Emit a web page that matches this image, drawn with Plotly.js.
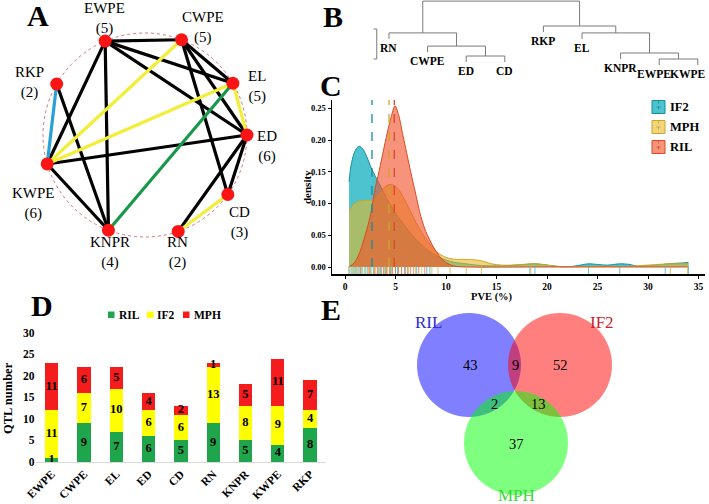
<!DOCTYPE html>
<html><head><meta charset="utf-8">
<script src="https://cdn.plot.ly/plotly-3.0.1.min.js"></script>
<style>html,body{margin:0;padding:0;background:#fff}</style>
</head><body><div id="chart" style="width:709px;height:504px"></div>
<script>
// ---------- Panel A : QTL co-location network ----------
const nodeNames  = ['EWPE','CWPE','EL','ED','CD','RN','KNPR','KWPE','RKP'];
const nodeDegree = [5,5,5,6,3,2,4,6,2];
const nodeAngle  = [113,69,30.5,0,-35.7,-71,-111,-163.5,150]; // circular layout angles (deg)
const edgeFrom = ['EWPE','EWPE','EWPE','EWPE','EWPE','CWPE','CWPE','CWPE','ED','ED','ED','KWPE','RKP','CWPE','EL','EL','CD','EL','RKP'];
const edgeTo   = ['CWPE','EL','ED','KWPE','KNPR','EL','ED','CD','KWPE','CD','RN','KNPR','KNPR','KWPE','KWPE','ED','RN','KNPR','KWPE'];
const edgeType = ['k','k','k','k','k','k','k','k','k','k','k','k','k','y','y','y','y','g','b'];

// ---------- Panel B : dendrogram ----------
const leaves = ['RN','CWPE','ED','CD','RKP','EL','KNPR','EWPE','KWPE'];
// merges: negative = leaf (1-based), positive = earlier merge
const mergeA = [-3,-8,-7,-2,-1,-6,-5,5];
const mergeB = [-4,-9,2,1,4,3,6,7];
const mergeH = [0.3,0.2,0.4,0.63,1.07,1.07,1.3,2.13];

// ---------- Panel C : PVE density ----------
const groupsC = ['IF2','MPH','RIL'];
const if2X = [0.4,0.6,0.9,1.2,1.45,1.8,2.2,2.6,3.0,3.5,4,4.5,5,5.5,6,6.5,7,7.5,8,8.5,9,10,11,12,13,14,15,16,17,18,18.7,19.5,20.5,21.5,22.5,23.3,24.1,25,26,27.2,28.2,29,30,31,32,33,34];
const if2Y = [0.134,0.16,0.179,0.188,0.19,0.185,0.172,0.156,0.143,0.128,0.112,0.098,0.085,0.074,0.063,0.053,0.044,0.036,0.029,0.023,0.018,0.011,0.007,0.005,0.003,0.002,0.002,0.002,0.003,0.004,0.005,0.004,0.002,0.0005,0.001,0.003,0.005,0.004,0.003,0.005,0.004,0.001,0.002,0.003,0.005,0.006,0.007];
const mphX = [0.4,0.7,1.0,1.5,2.0,2.5,2.9,3.3,3.7,4.1,4.5,4.9,5.3,5.7,6.1,6.5,7,7.5,8,8.5,9,9.5,10,10.5,11,12,13,13.7,14.5,15.5,16.5,17.5,18.3,19,20,21,21.7,22.5,24,26,28,29,30,31,32,33,34];
const mphY = [0.087,0.096,0.101,0.104,0.105,0.105,0.107,0.114,0.122,0.128,0.13,0.128,0.122,0.112,0.1,0.087,0.071,0.057,0.045,0.034,0.025,0.019,0.015,0.013,0.012,0.012,0.011,0.009,0.005,0.003,0.003,0.004,0.005,0.005,0.003,0.001,0.0005,0.0005,0.001,0.001,0.001,0.002,0.003,0.004,0.005,0.005,0.005];
const rilX = [0.4,1.0,1.5,2.0,2.5,3.0,3.5,4.0,4.5,4.95,5.3,5.7,6.1,6.5,7.0,7.5,8.0,8.5,9.0,9.5,10.0,10.5,11,12,20,34];
const rilY = [0.0,0.008,0.025,0.05,0.08,0.125,0.16,0.198,0.232,0.254,0.24,0.21,0.18,0.15,0.115,0.08,0.056,0.039,0.025,0.014,0.007,0.003,0.001,0,0,0];
const if2Rug = [0.4,0.6,0.8,1.0,1.1,1.3,1.5,1.7,2.0,2.2,2.5,2.8,3.3,3.6,4.0,4.5,5.2,6.0,7.1,8.1,8.4,18.3,18.8,24.1,27.2,31.7,34.0];
const mphRug = [0.4,0.7,0.9,1.2,1.6,1.9,2.3,2.6,3.0,3.4,3.9,4.2,4.6,5.0,5.6,6.3,7.0,7.6,8.6,9.2,10.4,12.0,13.5,18.4,32.2,33.9];
const rilRug = [1.5,2.4,2.9,3.2,3.5,3.8,4.1,4.4,4.7,5.0,5.3,5.6,5.9,6.2,6.5,6.8,7.3,7.9];
const groupMean = [2.67,4.36,4.88];

// ---------- Panel D : QTL numbers ----------
const traits = ['EWPE','CWPE','EL','ED','CD','RN','KNPR','KWPE','RKP'];
const rilQ = [1,9,7,6,5,9,5,4,8];
const if2Q = [11,7,10,6,6,13,8,9,4];
const mphQ = [11,6,5,4,2,1,5,11,7];

// ---------- Panel E : Venn ----------
const vennSets = ['RIL','IF2','MPH'];
const vennCounts = {RIL:43, RIL_IF2:9, IF2:52, RIL_MPH:2, IF2_MPH:13, MPH:37};

// ================= build =================
const SERIF = 'Liberation Serif, Times New Roman, serif';
const traces = [];
const shapes = [];
const ann = [];

// --- A
const cx = 145, cy = 135, R = 102;
const pos = {};
nodeNames.forEach((n,i)=>{ const a = nodeAngle[i]*Math.PI/180; pos[n] = [cx+R*Math.cos(a), cy-R*Math.sin(a)]; });
const edgeColor = {k:'#000000', y:'#f2ee3a', g:'#17984a', b:'#2aa0d6'};
['k','y','g','b'].forEach(t=>{
  const xs=[], ys=[];
  edgeType.forEach((et,i)=>{ if(et===t){ xs.push(pos[edgeFrom[i]][0], pos[edgeTo[i]][0], null); ys.push(pos[edgeFrom[i]][1], pos[edgeTo[i]][1], null);} });
  traces.push({type:'scatter', mode:'lines', x:xs, y:ys, xaxis:'x', yaxis:'y', line:{color:edgeColor[t], width:3.2}, hoverinfo:'skip'});
});
traces.push({type:'scatter', mode:'markers', x:nodeNames.map(n=>pos[n][0]), y:nodeNames.map(n=>pos[n][1]), xaxis:'x', yaxis:'y', marker:{color:'#fb1414', size:13}, hoverinfo:'skip'});
shapes.push({type:'circle', xref:'x', yref:'y', x0:cx-R, x1:cx+R, y0:cy-R, y1:cy+R, line:{color:'#c8505a', width:0.8, dash:'dot'}, layer:'below'});
const labPos = {EWPE:[104,18], CWPE:[203,27], EL:[257,86], ED:[267,146], CD:[239,222], RN:[177,252], KNPR:[110,252], KWPE:[33,203], RKP:[29,82]};
nodeNames.forEach((n,i)=>{
  ann.push({xref:'x', yref:'y', x:labPos[n][0], y:labPos[n][1], text:n+'<br>('+nodeDegree[i]+')', showarrow:false, font:{family:SERIF, size:15, color:'#000'}, xanchor:'center', yanchor:'middle'});
});

// --- B dendrogram (axis x4/y4: leaf index vs height)
const hang = 0.2;
const nodeX = [];
const segX=[], segY=[];
function childInfo(c){
  if(c<0){ return {x:c*-1-1, leaf:true}; }
  return {x:nodeX[c-1], h:mergeH[c-1], leaf:false};
}
const leafShift = {EWPE:-5};
for(let m=0;m<mergeA.length;m++){
  const h = mergeH[m];
  const a = childInfo(mergeA[m]), b = childInfo(mergeB[m]);
  const ya = a.leaf ? h-hang : a.h, yb = b.leaf ? h-hang : b.h;
  segX.push(a.x,a.x,b.x,b.x,null); segY.push(ya,h,h,yb,null);
  nodeX.push((a.x+b.x)/2);
  [mergeA[m],mergeB[m]].forEach(c=>{
    if(c<0){
      const i = -c-1;
      const last = i===leaves.length-1;
      ann.push({xref:'x4', yref:'y4', x:i, y:h-hang, text:'<b>'+leaves[i]+'</b>', showarrow:false,
        font:{family:SERIF, size:11.5, color:'#000'}, xanchor: last ? 'right':'center',
        xshift: last ? 9 : (leafShift[leaves[i]]||0), yanchor:'top', yshift:-1});
    }
  });
}
traces.push({type:'scatter', mode:'lines', x:segX, y:segY, xaxis:'x4', yaxis:'y4', line:{color:'#7a7a7a', width:1}, hoverinfo:'skip'});
// scale bar of 1 height unit
traces.push({type:'scatter', mode:'lines', x:[-0.4,-0.317,-0.317,-0.4], y:[1.2,1.2,0.2,0.2], xaxis:'x4', yaxis:'y4', line:{color:'#7a7a7a', width:1}, hoverinfo:'skip'});
ann.push({xref:'x4', yref:'y4', x:-0.5, y:0.7, text:'<b>1</b>', showarrow:false, font:{family:SERIF, size:11, color:'#000'}, xanchor:'right'});

// --- C density
const fillC = ['rgba(0,170,185,0.7)','rgba(230,185,40,0.6)','rgba(240,80,40,0.62)'];
const lineC = ['rgb(20,140,155)','rgb(205,165,40)','rgb(215,75,35)'];
const rugC  = ['rgba(60,180,195,0.8)','rgba(215,180,60,0.8)','rgba(230,110,70,0.8)'];
const dX=[if2X,mphX,rilX], dY=[if2Y,mphY,rilY], rugs=[if2Rug,mphRug,rilRug];
groupsC.forEach((g,i)=>{
  traces.push({type:'scatter', mode:'lines', x:dX[i], y:dY[i], xaxis:'x2', yaxis:'y2', fill:'tozeroy', fillcolor:fillC[i], line:{color:lineC[i], width:1, shape:'spline', smoothing:0.8}, hoverinfo:'skip'});
});
groupsC.forEach((g,i)=>{
  traces.push({type:'scatter', mode:'markers', x:rugs[i], y:rugs[i].map(()=>-0.0056), xaxis:'x2', yaxis:'y2', marker:{symbol:'line-ns', size:6, line:{color:rugC[i], width:1}}, hoverinfo:'skip'});
});
groupsC.forEach((g,i)=>{
  traces.push({type:'scatter', mode:'lines', x:[groupMean[i],groupMean[i]], y:[0,0.263], xaxis:'x2', yaxis:'y2', line:{color:lineC[i], width:1.3, dash:'dash'}, hoverinfo:'skip'});
});
// legend of C (manual keys)
groupsC.forEach((g,i)=>{
  const yc = 107 + 20*i, xc = 658.5;
  shapes.push({type:'rect', xref:'x', yref:'y', x0:xc-6.5, x1:xc+6.5, y0:yc-6.5, y1:yc+6.5, fillcolor:fillC[i], line:{color:lineC[i], width:1}});
  shapes.push({type:'line', xref:'x', yref:'y', x0:xc, x1:xc, y0:yc-6.5, y1:yc+6.5, line:{color:lineC[i], width:0.8, dash:'dot'}});
  shapes.push({type:'line', xref:'x', yref:'y', x0:xc-2, x1:xc+2, y0:yc, y1:yc, line:{color:lineC[i], width:0.8}});
  ann.push({xref:'x', yref:'y', x:668, y:yc, text:'<b>'+g+'</b>', showarrow:false, xanchor:'left', yanchor:'middle', font:{family:SERIF, size:12.5, color:'#000'}});
});
ann.push({xref:'x', yref:'y', x:307, y:187, text:'<b>density</b>', textangle:-90, showarrow:false, font:{family:SERIF, size:11, color:'#000'}});
ann.push({xref:'x', yref:'y', x:492, y:297, text:'<b>PVE (%)</b>', showarrow:false, font:{family:SERIF, size:10.5, color:'#000'}});

// --- D bars
const barCols = ['#1fa64c','#ffff00','#f41c1c'];
const barSeries = [rilQ, if2Q, mphQ], barNames=['RIL','IF2','MPH'];
barSeries.forEach((s,i)=>{
  traces.push({type:'bar', x:traits, y:s, xaxis:'x3', yaxis:'y3', marker:{color:barCols[i], line:{width:0}}, width:0.41, name:barNames[i], hoverinfo:'skip'});
});
const tx=[], ty=[], tt=[];
traits.forEach((t,j)=>{ let base=0; barSeries.forEach(s=>{ tx.push(t); ty.push(base+s[j]/2); tt.push(String(s[j])); base+=s[j]; }); });
traces.push({type:'scatter', mode:'text', x:tx, y:ty, text:tt, xaxis:'x3', yaxis:'y3', textfont:{family:SERIF, size:12.5, color:'#000', weight:'bold'}, cliponaxis:false, hoverinfo:'skip'});
// legend of D
const legD = [[108,117],[147,155],[183,192]];
barNames.forEach((n,i)=>{
  shapes.push({type:'rect', xref:'x', yref:'y', x0:legD[i][0], x1:legD[i][0]+6.5, y0:311.5, y1:318, fillcolor:barCols[i], line:{width:0}});
  ann.push({xref:'x', yref:'y', x:legD[i][1], y:315, text:'<b>'+n+'</b>', showarrow:false, xanchor:'left', yanchor:'middle', font:{family:SERIF, size:11.5, color:'#000'}});
});
ann.push({xref:'x', yref:'y', x:8, y:398, text:'<b>QTL number</b>', textangle:-90, showarrow:false, font:{family:SERIF, size:12.5, color:'#000'}});

// --- E venn
const vennCircles = {RIL:[469,365,52,'#0000ff'], IF2:[560,365,52,'#ff0000'], MPH:[516,443,52,'#00ff00']};
vennSets.forEach(s=>{
  const c = vennCircles[s];
  shapes.push({type:'circle', xref:'x', yref:'y', x0:c[0]-c[2], x1:c[0]+c[2], y0:c[1]-c[2], y1:c[1]+c[2], fillcolor:c[3], opacity:0.5, line:{width:0}, layer:'above'});
});
const vennLab = {RIL:[428,322,'#2b2bd2'], IF2:[602,322,'#cf2028'], MPH:[516,495,'#3ada3a']};
vennSets.forEach(s=>{
  ann.push({xref:'x', yref:'y', x:vennLab[s][0], y:vennLab[s][1], text:s, showarrow:false, font:{family:SERIF, size:17, color:vennLab[s][2]}});
});
const regPos = {RIL:[470,365], RIL_IF2:[515,365], IF2:[560,365], RIL_MPH:[494,404], IF2_MPH:[538,404], MPH:[516,444]};
Object.keys(vennCounts).forEach(k=>{
  ann.push({xref:'x', yref:'y', x:regPos[k][0], y:regPos[k][1], text:String(vennCounts[k]), showarrow:false, font:{family:SERIF, size:14.5, color:'#000'}});
});

// --- panel letters
[['A',38,15],['B',333,16],['C',331,85],['D',42,305],['E',331,309]].forEach(l=>{
  ann.push({xref:'x', yref:'y', x:l[1], y:l[2], text:'<b>'+l[0]+'</b>', showarrow:false, font:{family:SERIF, size:30, color:'#000'}});
});

const W=709, H=504;
const layout = {
  width:W, height:H, margin:{l:0,r:0,t:0,b:0}, paper_bgcolor:'#fff', plot_bgcolor:'rgba(0,0,0,0)',
  showlegend:false, barmode:'stack', font:{family:SERIF, color:'#000'},
  xaxis:{domain:[0,1], range:[0,W], visible:false, fixedrange:true},
  yaxis:{domain:[0,1], range:[H,0], visible:false, fixedrange:true},
  xaxis2:{domain:[332/W,705/W], range:[-1.287,35.64], anchor:'y2', showline:true, linecolor:'#000', linewidth:2,
    ticks:'outside', ticklen:3, tickwidth:1, tickcolor:'#000', tick0:0, dtick:5, showgrid:false, zeroline:false,
    tickfont:{family:SERIF, size:9.5, color:'#000', weight:'bold'}},
  yaxis2:{domain:[1-274/H,1-100/H], range:[-0.01102,0.263], anchor:'x2', showline:true, linecolor:'#000', linewidth:1.5,
    ticks:'outside', ticklen:3, tickwidth:1, tickcolor:'#000', tick0:0, dtick:0.05, tickformat:'.2f', showgrid:false, zeroline:false,
    tickfont:{family:SERIF, size:8.5, color:'#000', weight:'bold'}},
  xaxis3:{domain:[35.55/W,326.25/W], range:[-0.5,8.5], type:'category', anchor:'y3', showline:true, linecolor:'#d9d9d9', linewidth:1,
    ticks:'', tickangle:-45, showgrid:false, zeroline:false, tickfont:{family:SERIF, size:11.5, color:'#000', weight:'bold'}},
  yaxis3:{domain:[1-462/H,1-332.7/H], range:[0,30], anchor:'x3', dtick:5, showline:false, showgrid:false, zeroline:false, ticks:'',
    tickfont:{family:SERIF, size:11.5, color:'#000', weight:'bold'}},
  xaxis4:{domain:[370/W,1], range:[-0.492,8.29], anchor:'y4', visible:false},
  yaxis4:{domain:[1-100/H,1], range:[-1.1667,2.1667], anchor:'x4', visible:false},
  shapes:shapes, annotations:ann
};
Plotly.newPlot('chart', traces, layout, {staticPlot:true, displayModeBar:false});
</script></body></html>
